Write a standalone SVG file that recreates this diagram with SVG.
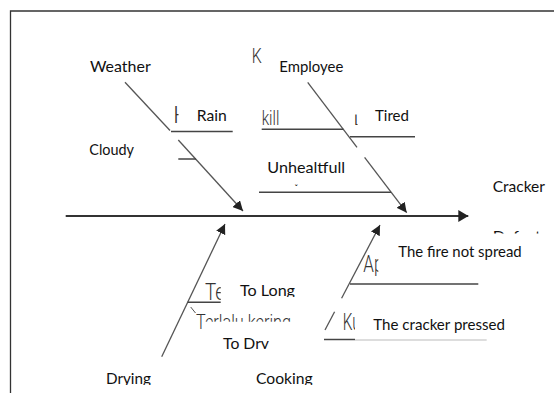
<svg xmlns="http://www.w3.org/2000/svg" width="554" height="393" viewBox="0 0 554 393">
<style>
.lbl{font-family:Lato,"Open Sans","Liberation Sans",sans-serif;font-size:15px;fill:#111}
.thin{font-family:Roboto,"DejaVu Sans",sans-serif;font-weight:300;fill:#333}
.bone{stroke:#555;stroke-width:1.3;fill:none}
.br{stroke:#444;stroke-width:1.5;fill:none}
.spine{stroke:#333;stroke-width:2;fill:none}
</style>
<defs>
<marker id="ah" viewBox="0 0 10 10" refX="10" refY="5" markerWidth="10" markerHeight="10" markerUnits="userSpaceOnUse" orient="auto">
<path d="M0,0 L10,5 L0,10 z" fill="#222"/>
</marker>
<marker id="ahs" viewBox="0 0 10 12" refX="10" refY="6" markerWidth="10" markerHeight="12" markerUnits="userSpaceOnUse" orient="auto">
<path d="M0,0 L10,6 L0,12 z" fill="#222"/>
</marker>
<clipPath id="cDef"><rect x="480" y="225" width="74" height="8.5"/></clipPath>
<clipPath id="cLong"><rect x="230" y="275" width="80" height="22"/></clipPath>
<clipPath id="cDry"><rect x="215" y="330" width="70" height="19"/></clipPath>
<clipPath id="cBot"><rect x="90" y="365" width="240" height="20"/></clipPath>
<clipPath id="cL"><rect x="352" y="114.5" width="5.5" height="12"/></clipPath>
<clipPath id="cH"><rect x="170" y="100" width="8.5" height="26"/></clipPath>
<clipPath id="cTe"><rect x="200" y="278" width="20.7" height="26"/></clipPath>
<clipPath id="cAp"><rect x="360" y="250" width="18.3" height="26"/></clipPath>
<clipPath id="cKu"><rect x="340" y="308" width="15" height="26"/></clipPath>
<clipPath id="cTer"><rect x="194" y="308" width="9" height="22"/><rect x="203" y="308" width="95" height="13.7"/></clipPath>
</defs>
<rect x="0" y="0" width="554" height="393" fill="#fff"/>
<path d="M10.5,393 V11 H554" stroke="#333" stroke-width="1.3" fill="none"/>

<g id="connectors">
<line class="spine" x1="65.7" y1="216" x2="468.3" y2="216" marker-end="url(#ahs)"/>
<line class="bone" x1="125" y1="82.3" x2="170" y2="130.5"/>
<line class="bone" x1="178.3" y1="140" x2="243" y2="211" marker-end="url(#ah)"/>
<line class="bone" x1="307.7" y1="82.3" x2="357" y2="147.3"/>
<line class="bone" x1="364.6" y1="157.3" x2="406.7" y2="212.7" marker-end="url(#ah)"/>
<line class="bone" x1="161.7" y1="356.7" x2="225" y2="224" marker-end="url(#ah)"/>
<line class="bone" x1="325" y1="330" x2="334.6" y2="311.7"/>
<line class="bone" x1="341.6" y1="298.3" x2="380" y2="225" marker-end="url(#ah)"/>
<line class="br" x1="171" y1="131.5" x2="232.7" y2="131.5"/>
<line class="br" x1="261.7" y1="129.3" x2="343.3" y2="129.3"/>
<line class="br" x1="350" y1="136.7" x2="415" y2="136.7"/>
<line class="br" x1="178.3" y1="159" x2="196" y2="159"/>
<line class="br" x1="259" y1="192.3" x2="391" y2="192.3"/>
<line class="br" x1="187.7" y1="302.3" x2="220.7" y2="302.3"/>
<line class="br" x1="350" y1="284" x2="478.3" y2="284"/>
<line class="br" x1="324" y1="339.5" x2="355" y2="339.5"/>
<line x1="355" y1="340" x2="486.7" y2="340" stroke="#bbb" stroke-width="1"/>
<line x1="190.7" y1="307" x2="195.5" y2="313" stroke="#555" stroke-width="1"/>
</g>

<g id="weather">
<text class="lbl" x="90" y="71.7" textLength="60.7" lengthAdjust="spacingAndGlyphs">Weather</text>
<text class="thin" x="173.3" y="123.3" font-size="23" clip-path="url(#cH)">H</text>
<text class="lbl" x="196.7" y="121" textLength="30" lengthAdjust="spacingAndGlyphs">Rain</text>
<text class="lbl" x="89.3" y="155" textLength="44.7" lengthAdjust="spacingAndGlyphs">Cloudy</text>
</g>

<g id="employee">
<text class="thin" x="251.7" y="62.7" font-size="20" textLength="10" lengthAdjust="spacingAndGlyphs">K</text>
<text class="lbl" x="279.3" y="71.7" textLength="64" lengthAdjust="spacingAndGlyphs">Employee</text>
<text class="thin" x="261.7" y="125" font-size="20" textLength="17.6" lengthAdjust="spacingAndGlyphs">kill</text>
<text class="thin" x="353.5" y="124.5" font-size="20" clip-path="url(#cL)">L</text>
<text class="lbl" x="375" y="120.7" textLength="34" lengthAdjust="spacingAndGlyphs">Tired</text>
<text class="lbl" x="267.3" y="173.3" textLength="77.7" lengthAdjust="spacingAndGlyphs">Unhealtfull</text>
<text class="lbl" x="294.5" y="192" font-size="9" fill="#555" style="font-size:9px">ˇ</text>
</g>

<g id="effect">
<text class="lbl" x="492.7" y="191.7" textLength="52.3" lengthAdjust="spacingAndGlyphs">Cracker</text>
<text class="lbl" x="492.7" y="241.5" textLength="48" lengthAdjust="spacingAndGlyphs" clip-path="url(#cDef)">Defect</text>
</g>

<g id="drying">
<text class="thin" x="205" y="300" font-size="24" textLength="20" lengthAdjust="spacingAndGlyphs" clip-path="url(#cTe)">Te</text>
<text class="lbl" x="240" y="295.7" textLength="55" lengthAdjust="spacingAndGlyphs" clip-path="url(#cLong)">To Long</text>
<text class="thin" x="196" y="328.5" font-size="21" textLength="95" lengthAdjust="spacingAndGlyphs" clip-path="url(#cTer)">Terlalu kering</text>
<text class="lbl" x="223" y="349" textLength="46" lengthAdjust="spacingAndGlyphs" clip-path="url(#cDry)">To Dry</text>
<text class="lbl" x="106" y="383.7" textLength="45" lengthAdjust="spacingAndGlyphs" clip-path="url(#cBot)">Drying</text>
</g>

<g id="cooking">
<text class="thin" x="363.3" y="271.7" font-size="23.5" textLength="20" lengthAdjust="spacingAndGlyphs" clip-path="url(#cAp)">Ap</text>
<text class="lbl" x="398.3" y="257.3" textLength="123.4" lengthAdjust="spacingAndGlyphs">The fire not spread</text>
<text class="thin" x="342.7" y="330" font-size="23.5" textLength="18" lengthAdjust="spacingAndGlyphs" clip-path="url(#cKu)">Ku</text>
<text class="lbl" x="373.3" y="330" textLength="131.7" lengthAdjust="spacingAndGlyphs">The cracker pressed</text>
<text class="lbl" x="256" y="383.7" textLength="56.7" lengthAdjust="spacingAndGlyphs" clip-path="url(#cBot)">Cooking</text>
</g>
</svg>
